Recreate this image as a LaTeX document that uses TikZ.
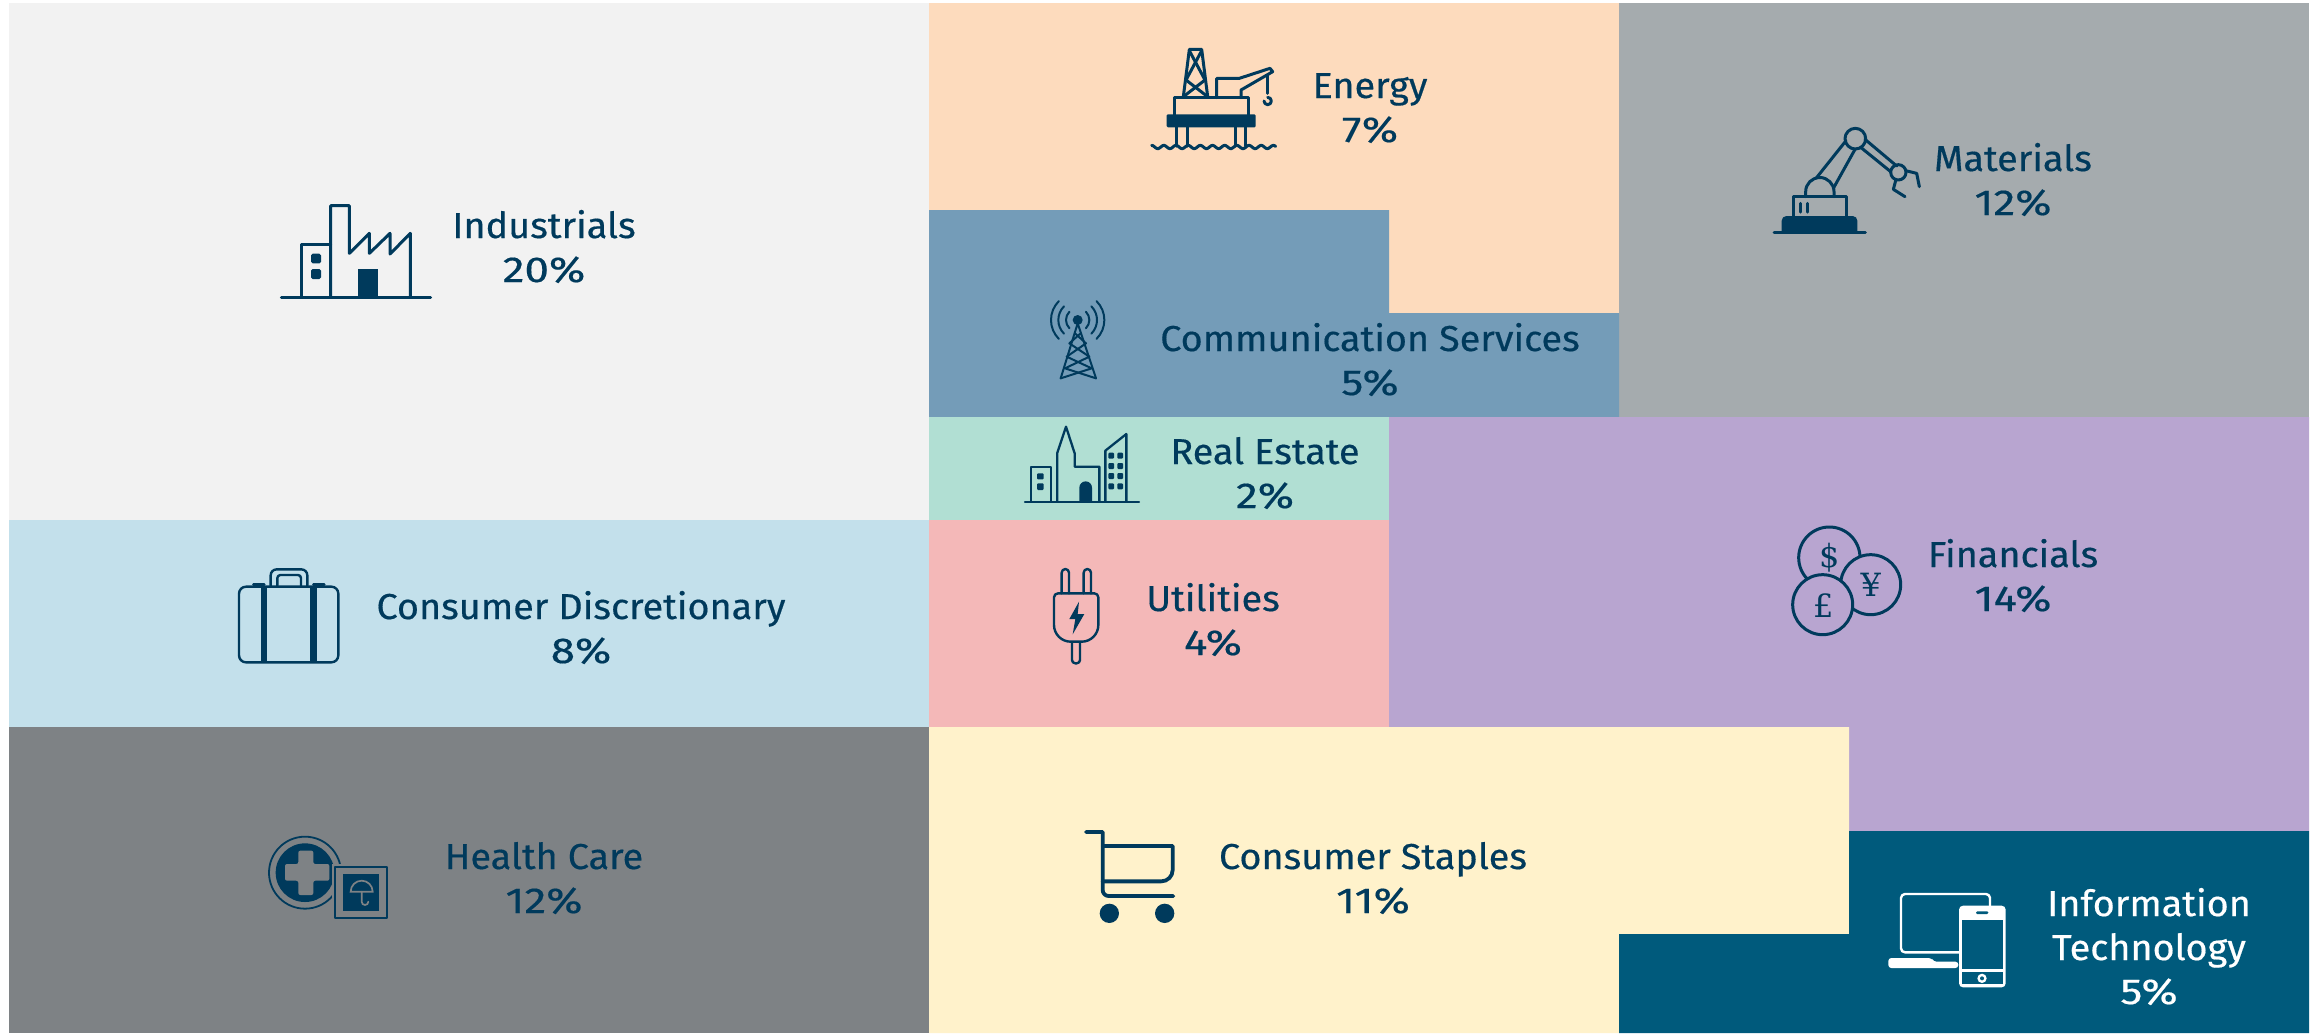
\documentclass[tikz,border=0pt]{standalone}
\usepackage{fontspec}
\setmainfont{Fira Sans}[FakeStretch=1.05,FakeBold=0.45]
\newfontfamily\pctfont{Fira Sans}[FakeStretch=1.22,FakeBold=0.45]
\newfontfamily\coinfont{DejaVu Serif}
\definecolor{ink}{HTML}{003A5C}
\definecolor{cIndustrials}{HTML}{F2F2F2}
\definecolor{cEnergy}{HTML}{FDDBBD}
\definecolor{cMaterials}{HTML}{A5ABAE}
\definecolor{cComm}{HTML}{749CB8}
\definecolor{cEstate}{HTML}{B1DFD3}
\definecolor{cFinancials}{HTML}{B8A5D0}
\definecolor{cUtilities}{HTML}{F4B8B8}
\definecolor{cDiscretionary}{HTML}{C3E0EB}
\definecolor{cHealth}{HTML}{7E8285}
\definecolor{cStaples}{HTML}{FFF2CB}
\definecolor{cTech}{HTML}{005A7C}
\tikzset{
  zoomed/.style 2 args={shift={(#1,#2)},x=0.16667pt,y=-0.16667pt},
  icon/.style={draw=ink,line width=#1,line cap=round,line join=round},
  icon/.default=1.5pt,
  solid ink/.style={fill=ink,draw=none},
  lab/.style={text=ink,align=center,anchor=base,inner sep=0pt,font=\fontsize{18}{22}\selectfont},
  coin/.style={text=ink,inner sep=0pt,font=\fontsize{16}{16}\selectfont\coinfont},
}
\begin{document}
\begin{tikzpicture}[x=0.5pt,y=-0.5pt]
\useasboundingbox (0,0) rectangle (2318,1034);
% regions
\fill[cIndustrials] (9,3) rectangle (929,520);
\fill[cEnergy] (929,3) -- (1619,3) -- (1619,313) -- (1389,313) -- (1389,210) -- (929,210) -- cycle;
\fill[cMaterials] (1619,3) rectangle (2309,417);
\fill[cComm] (929,210) -- (1389,210) -- (1389,313) -- (1619,313) -- (1619,417) -- (929,417) -- cycle;
\fill[cEstate] (929,417) rectangle (1389,520);
\fill[cFinancials] (1389,417) -- (2309,417) -- (2309,831) -- (1849,831) -- (1849,727) -- (1389,727) -- cycle;
\fill[cUtilities] (929,520) rectangle (1389,727);
\fill[cDiscretionary] (9,520) rectangle (929,727);
\fill[cHealth] (9,727) rectangle (929,1033);
\fill[cStaples] (929,727) -- (1849,727) -- (1849,934) -- (1619,934) -- (1619,1033) -- (929,1033) -- cycle;
\fill[cTech] (1849,831) -- (2309,831) -- (2309,1033) -- (1619,1033) -- (1619,934) -- (1849,934) -- cycle;
% labels
\node[lab] (industrials) at (544,282) {Industrials\\\pctfont 20\%};
\node[lab] (energy) at (1370,142) {Energy\\\pctfont 7\%};
\node[lab] (materials) at (2013,215) {Materials\\\pctfont 12\%};
\node[lab] (comm) at (1370,395) {Communication Services\\\pctfont 5\%};
\node[lab] (estate) at (1265,508) {Real Estate\\\pctfont 2\%};
\node[lab] (financials) at (2013,611) {Financials\\\pctfont 14\%};
\node[lab] (utilities) at (1213,655) {Utilities\\\pctfont 4\%};
\node[lab] (discretionary) at (581,663) {Consumer Discretionary\\\pctfont 8\%};
\node[lab] (health) at (544,913) {Health Care\\\pctfont 12\%};
\node[lab] (staples) at (1373,913) {Consumer Staples\\\pctfont 11\%};
\node[lab,text=white] (tech) at (2149,1004) {Information\\Technology\\\pctfont 5\%};
% factory
\begin{scope}[zoomed={220}{160}]
\draw[icon] (184,411) -- (632,411);
\draw[icon] (244,411) -- (244,252) -- (332,252);
\draw[icon] (332,411) -- (332,137) -- (388,137) -- (388,280) -- (448,220) -- (448,280) -- (510,220) -- (510,282) -- (571,220) -- (571,411);
\fill[solid ink,rounded corners=0.8pt] (273,281) rectangle (303,310);
\fill[solid ink,rounded corners=0.8pt] (273,327) rectangle (303,357);
\fill[solid ink] (414,328) rectangle (474,411);
\end{scope}
% offshore platform
\begin{scope}[zoomed={1100}{20}]
\draw[icon] (250,230) -- (268,88) -- (305,88) -- (323,230);
\draw[icon] (268,92) -- (315,180) -- (250,230);
\draw[icon] (305,92) -- (258,180) -- (323,230);
\draw[icon] (224,285) -- (224,233) -- (446,233) -- (446,285);
\fill[solid ink,rounded corners=0.6pt] (200,283) rectangle (467,322);
\draw[icon] (230,322) -- (230,378) (262,322) -- (262,378) (406,322) -- (406,378) (436,322) -- (436,378);
\draw[icon] (350,233) -- (350,175) -- (418,175) -- (510,145) -- (518,155) -- (423,210) -- (423,233);
\draw[icon] (502,165) -- (502,220);
\draw[icon] (503,232) arc[start angle=270,end angle=540,radius=11];
\draw[icon] plot[domain=155:527,samples=90,smooth] (\x,{381-5*cos((\x-155)*9.86)});
\end{scope}
% robot arm
\begin{scope}[zoomed={1740}{100}]
\draw[icon] (102,396) -- (376,396);
\fill[solid ink] (125,396) -- (125,362) arc[start angle=180,end angle=270,radius=14] -- (338,348) arc[start angle=270,end angle=360,radius=14] -- (352,396) -- cycle;
\draw[icon] (160,348) -- (160,290) -- (320,290) -- (320,348);
\draw[icon] (180,310) -- (180,336) (203,310) -- (203,336);
\draw[icon] (197,290) -- (197,275) arc[start angle=180,end angle=360,radius=42.5] -- (282,290);
\draw[icon] (228,235) -- (318,122) (280,265) -- (345,148);
\draw[icon] (346,116) circle[radius=31];
\draw[icon] (375,118) -- (470,198) (362,142) -- (452,215);
\draw[icon] (475,217) circle[radius=23];
\draw[icon] (497,212) -- (530,220) -- (538,260);
\draw[icon] (468,238) -- (460,268) -- (495,290);
\end{scope}
% antenna
\begin{scope}[zoomed={1010}{280}]
\fill[solid ink] (203,120) circle[radius=15];
\draw[icon=1pt] (203,130) -- (152,295) (203,130) -- (258,295);
\draw[icon=1pt] (195,160) -- (228,190) -- (170,230) -- (245,265) -- (152,295);
\draw[icon=1pt] (212,160) -- (178,190) -- (238,230) -- (165,265) -- (258,295);
\foreach \r in {35,58,80}{
  \draw[icon=1pt] (203,120) ++(-45:\r) arc[start angle=-45,end angle=45,radius=\r];
  \draw[icon=1pt] (203,120) ++(135:\r) arc[start angle=135,end angle=225,radius=\r];
}
\end{scope}
% city
\begin{scope}[zoomed={1000}{410}]
\draw[icon=1.15pt] (75,275) -- (417,275);
\draw[icon=1.15pt] (93,275) -- (93,171) -- (153,171) -- (153,275);
\fill[solid ink,rounded corners=0.5pt] (111,190) rectangle (131,208);
\fill[solid ink,rounded corners=0.5pt] (111,220) rectangle (131,240);
\draw[icon=1.15pt] (172,275) -- (172,128) -- (198,50) -- (224,130) -- (224,170) -- (298,170) -- (298,275);
\fill[solid ink] (238,275) -- (238,233) arc[start angle=180,end angle=360,radius=19] -- (276,275) -- cycle;
\draw[icon=1.15pt] (316,275) -- (316,122) -- (379,72) -- (379,275);
\foreach \wy in {128,159,189,220}{
  \fill[solid ink,rounded corners=0.5pt] (325,\wy) rectangle ++(17,18);
  \fill[solid ink,rounded corners=0.5pt] (352,\wy) rectangle ++(17,18);
}
\end{scope}
% plug
\begin{scope}[zoomed={1020}{550}]
\draw[icon=1.2pt] (125,130) -- (125,68) arc[start angle=180,end angle=360,radius=11] -- (147,130);
\draw[icon=1.2pt] (191,130) -- (191,68) arc[start angle=180,end angle=360,radius=11] -- (213,130);
\draw[icon=1.2pt] (114,130) -- (223,130) arc[start angle=270,end angle=360,radius=12] -- (235,225) arc[start angle=0,end angle=90,radius=50] -- (152,275) arc[start angle=90,end angle=180,radius=50] -- (102,142) arc[start angle=180,end angle=270,radius=12];
\draw[icon=1.2pt] (156,277) -- (156,330) arc[start angle=180,end angle=90,radius=10] -- (170,340) arc[start angle=90,end angle=0,radius=10] -- (180,277);
\fill[solid ink] (177,155) -- (148,207) -- (166,207) -- (158,253) -- (193,192) -- (173,192) -- cycle;
\end{scope}
% suitcase
\begin{scope}[zoomed={220}{550}]
\draw[icon=1.2pt,rounded corners=3.5pt] (57,110) rectangle (355,337);
\fill[solid ink] (122,108) rectangle (141,337);
\fill[solid ink] (270,108) rectangle (290,337);
\draw[icon=1.2pt,rounded corners=3pt] (152,107) -- (152,58) -- (262,58) -- (262,107);
\draw[icon=1.2pt,rounded corners=1.5pt] (172,107) -- (172,75) -- (243,75) -- (243,107);
\draw[icon=1.2pt] (100,104) -- (133,104) (280,104) -- (313,104);
\end{scope}
% health
\begin{scope}[zoomed={250}{820}]
\draw[icon=0.9pt] (165,158) circle[radius=108];
\fill[solid ink] (165,158) circle[radius=88];
\fill[cHealth,rounded corners=1pt] (145,92) -- (190,92) -- (190,132) -- (238,132) -- (238,182) -- (190,182) -- (190,225) -- (145,225) -- (145,182) -- (105,182) -- (105,132) -- (145,132) -- cycle;
\fill[cHealth] (247,132) rectangle (420,303);
\draw[icon=0.9pt] (256,141) rectangle (411,294);
\fill[solid ink] (278,162) rectangle (388,272);
\draw[cHealth,line width=0.85pt,line cap=round] (302,215) arc[start angle=180,end angle=360,radius=33] -- cycle;
\draw[cHealth,line width=0.85pt,line cap=round] (335,215) -- (335,245) arc[start angle=180,end angle=0,radius=10];
\end{scope}
% coins
\begin{scope}[zoomed={1780}{510}]
\draw[icon] (148,143) circle[radius=92];
\draw[icon,fill=cFinancials] (272,224) circle[radius=90];
\draw[icon,fill=cFinancials] (128,284) circle[radius=90];
\node[coin] (dollar) at (148,143) {\$};
\node[coin] (yen) at (272,224) {¥};
\node[coin] (pound) at (130,286) {£};
\end{scope}
% cart
\begin{scope}[zoomed={1070}{810}]
\draw[icon=1.9pt] (48,66) -- (98,66) -- (98,240) arc[start angle=180,end angle=90,radius=18] -- (310,258);
\draw[icon=1.9pt] (98,108) -- (308,108) -- (308,180) arc[start angle=0,end angle=90,radius=34] -- (98,214);
\fill[solid ink] (118,310) circle[radius=29];
\fill[solid ink] (284,310) circle[radius=29];
\end{scope}
% devices
\begin{scope}[zoomed={1870}{870}]
\draw[white,line width=1.2pt,rounded corners=2pt,line join=round] (268,247) -- (93,247) -- (93,72) -- (360,72) -- (360,110);
\fill[white,rounded corners=1.5pt] (55,264) -- (185,264) -- (190,275) -- (265,275) -- (265,294) -- (55,294) -- cycle;
\fill[white,rounded corners=2pt] (267,107) rectangle (407,352);
\fill[cTech] (276,150) rectangle (399,297);
\fill[cTech] (276,307) rectangle (399,343);
\fill[cTech,rounded corners=0.6pt] (318,124) rectangle (355,132);
\fill[white] (336,325) circle[radius=14];
\fill[cTech] (336,325) circle[radius=6];
\end{scope}
\end{tikzpicture}
\end{document}
